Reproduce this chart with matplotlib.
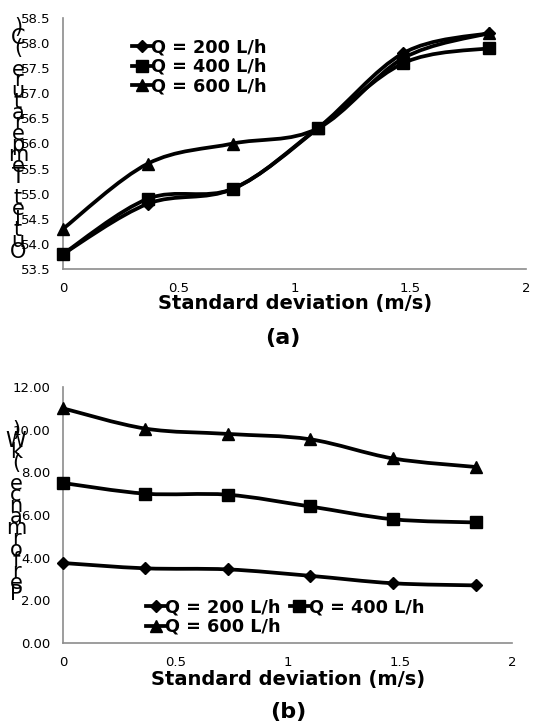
import matplotlib
matplotlib.use('Agg')
import matplotlib.pyplot as plt
import numpy as np
from matplotlib.path import Path
from matplotlib.patches import PathPatch
from matplotlib.lines import Line2D

# ── Data ─────────────────────────────────────────────────────────────────────
std_dev = [0.0, 0.367, 0.735, 1.10, 1.47, 1.84]
labels = ['Q = 200 L/h', 'Q = 400 L/h', 'Q = 600 L/h']
markers = ['D', 's', '^']

t_out_200 = [53.8, 54.8, 55.1, 56.3, 57.8, 58.2]
t_out_400 = [53.8, 54.9, 55.1, 56.3, 57.6, 57.9]
t_out_600 = [54.3, 55.6, 56.0, 56.3, 57.7, 58.2]

perf_200 = [3.75, 3.5, 3.45, 3.15, 2.8, 2.7]
perf_400 = [7.5, 7.0, 6.95, 6.4, 5.8, 5.65]
perf_600 = [11.0, 10.05, 9.8, 9.55, 8.65, 8.25]

ylabel_a = 'Outlet Temperature (C)'
ylabel_b = 'Performance (kW)'

W, H = 541, 727
fig = plt.figure(figsize=(W / 100, H / 100), dpi=100)
fig.patch.set_facecolor('white')
SPINE = '#8c8c8c'
FONT = 'DejaVu Sans'
LW = 2.7


def smooth_path(xs, ys):
    # Excel-style smoothed line: Catmull-Rom segments as cubic Beziers
    pts = np.column_stack([xs, ys]).astype(float)
    n = len(pts)
    verts, codes = [pts[0]], [Path.MOVETO]
    for i in range(n - 1):
        p0 = pts[i - 1] if i > 0 else pts[i]
        p1, p2 = pts[i], pts[i + 1]
        p3 = pts[i + 2] if i + 2 < n else pts[i + 1]
        verts += [p1 + (p2 - p0) / 6, p2 - (p3 - p1) / 6, p2]
        codes += [Path.CURVE4] * 3
    return Path(verts, codes)


def style_axes(ax):
    for s in ('top', 'right'):
        ax.spines[s].set_visible(False)
    for s in ('left', 'bottom'):
        ax.spines[s].set_color(SPINE)
        ax.spines[s].set_linewidth(1.2)
    ax.tick_params(length=0, labelsize=9.5, pad=9)
    for lab in ax.get_xticklabels() + ax.get_yticklabels():
        lab.set_family(FONT)


def msize(mk):
    return 6.5 if mk == 'D' else 9


def draw_series(ax, series):
    for ys, mk in zip(series, markers):
        ax.add_patch(PathPatch(smooth_path(std_dev, ys), fill=False,
                               lw=LW, ec='black', zorder=3, clip_on=False))
        ax.plot(std_dev, ys, ls='none', marker=mk, ms=msize(mk),
                color='black', zorder=4, clip_on=False)


def handles():
    return [Line2D([], [], color='black', lw=LW, marker=mk, ms=msize(mk))
            for mk in markers]


def stacked_label(text, x_px, y_top_px, step_px):
    # vertical title drawn as upright letters stacked top to bottom (reversed)
    for i, ch in enumerate(text[::-1]):
        if ch == ' ':
            continue
        fig.text(x_px / W, 1 - (y_top_px + i * step_px) / H, ch,
                 fontsize=15, family=FONT, ha='center', va='center')


# ═════════════════════════════════════════════════════════════════════════════
# (a) Outlet temperature
# ═════════════════════════════════════════════════════════════════════════════
ax1 = fig.add_axes([63 / W, 1 - 269 / H, (526 - 63) / W, (269 - 18) / H])
draw_series(ax1, [t_out_200, t_out_400, t_out_600])
ax1.set_xlim(0, 2)
ax1.set_ylim(53.5, 58.5)
ax1.set_xticks([0, 0.5, 1, 1.5, 2])
ax1.set_xticklabels(['0', '0.5', '1', '1.5', '2'])
ax1.set_yticks(np.arange(53.5, 58.51, 0.5))
ax1.set_yticklabels([f'{v:.1f}' for v in np.arange(53.5, 58.51, 0.5)])
style_axes(ax1)
ax1.legend(handles(), labels, loc='upper left', bbox_to_anchor=(0.13, 0.955),
           frameon=False, handlelength=1.1, handletextpad=0.0,
           labelspacing=0.1, borderpad=0,
           prop=dict(family=FONT, weight='bold', size=12.7))
fig.text(295 / W, 1 - 303 / H, 'Standard deviation (m/s)', fontsize=14,
         fontweight='bold', family=FONT, ha='center', va='center')
fig.text(283 / W, 1 - 338 / H, '(a)', fontsize=16, fontweight='bold',
         family=FONT, ha='center', va='center')
stacked_label(ylabel_a, 18, 27, 10.7)

# ═════════════════════════════════════════════════════════════════════════════
# (b) Performance
# ═════════════════════════════════════════════════════════════════════════════
ax2 = fig.add_axes([63 / W, 1 - 643 / H, (512 - 63) / W, (643 - 387) / H])
draw_series(ax2, [perf_200, perf_400, perf_600])
ax2.set_xlim(0, 2)
ax2.set_ylim(0, 12)
ax2.set_xticks([0, 0.5, 1, 1.5, 2])
ax2.set_xticklabels(['0', '0.5', '1', '1.5', '2'])
ax2.set_yticks(np.arange(0, 12.01, 2))
ax2.set_yticklabels([f'{v:.2f}' for v in np.arange(0, 12.01, 2)])
style_axes(ax2)
h = handles()
# column-major fill: order so row 1 = 200, 400 and row 2 = 600
ax2.legend([h[0], h[2], h[1]], [labels[0], labels[2], labels[1]],
           loc='upper left', bbox_to_anchor=(0.165, 0.21),
           ncol=2, frameon=False, handlelength=1.1, handletextpad=0.0,
           columnspacing=0.5, labelspacing=0.1, borderpad=0,
           prop=dict(family=FONT, weight='bold', size=12.7))
fig.text(288 / W, 1 - 680 / H, 'Standard deviation (m/s)', fontsize=14,
         fontweight='bold', family=FONT, ha='center', va='center')
fig.text(288 / W, 1 - 712 / H, '(b)', fontsize=16, fontweight='bold',
         family=FONT, ha='center', va='center')
stacked_label(ylabel_b, 16, 430, 10.9)

fig.savefig('out.png', dpi=100, facecolor='white')
